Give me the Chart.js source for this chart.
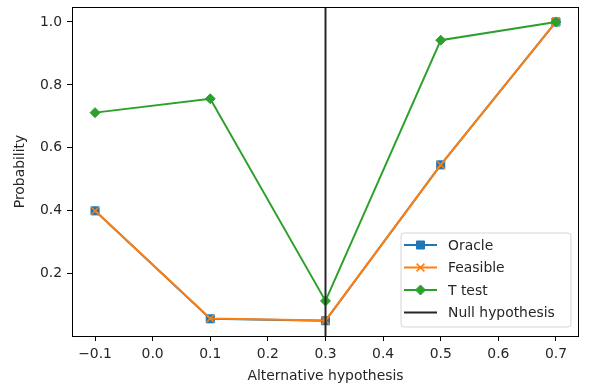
<!DOCTYPE html>
<html>
<head>
<meta charset="utf-8">
<script src="https://cdn.jsdelivr.net/npm/chart.js@4/dist/chart.umd.min.js"></script>
<style>
html,body{margin:0;padding:0;background:#fff;}
#wrap{width:592px;height:388px;position:relative;}
</style>
</head>
<body>
<div id="wrap"><canvas id="c" width="592" height="388"></canvas></div>
<script>
// ---- data ----
const xValues = [-0.1, 0.1, 0.3, 0.5, 0.7];
const oracle = [0.400, 0.057, 0.051, 0.546, 1.000];
const feasible = [0.400, 0.058, 0.052, 0.546, 1.000];
const tTest = [0.712, 0.756, 0.114, 0.942, 1.000];
const nullHypothesis = 0.3;
const seriesLabels = ['Oracle', 'Feasible', 'T test', 'Null hypothesis'];
const xTicks = [-0.1, 0.0, 0.1, 0.2, 0.3, 0.4, 0.5, 0.6, 0.7];
const yTicks = [0.2, 0.4, 0.6, 0.8, 1.0];
const xLimits = [-0.14, 0.74];
const yLimits = [0.0025, 1.0475];

const FONT = 'DejaVu Sans';
const FS = 13.9;

function pts(xs, ys) { return xs.map((x, i) => ({x: x, y: ys[i]})); }

const frameAndLegend = {
  id: 'frameAndLegend',
  afterDraw(chart) {
    const ctx = chart.ctx;
    const a = chart.chartArea;
    ctx.save();
    ctx.strokeStyle = '#000';
    ctx.lineWidth = 1;
    ctx.strokeRect(Math.round(a.left) + 0.5, Math.round(a.top) + 0.5,
      Math.round(a.right - a.left) - 1, Math.round(a.bottom - a.top));
    // legend
    const bx = 401, by = 233, bw = 170, bh = 94, r = 3;
    ctx.beginPath();
    ctx.moveTo(bx + r, by);
    ctx.arcTo(bx + bw, by, bx + bw, by + bh, r);
    ctx.arcTo(bx + bw, by + bh, bx, by + bh, r);
    ctx.arcTo(bx, by + bh, bx, by, r);
    ctx.arcTo(bx, by, bx + bw, by, r);
    ctx.closePath();
    ctx.fillStyle = 'rgba(255,255,255,0.8)';
    ctx.fill();
    ctx.strokeStyle = 'rgba(204,204,204,0.8)';
    ctx.lineWidth = 1;
    ctx.stroke();
    const ds = chart.data.datasets;
    ds.forEach((d, i) => {
      const y = 245 + i * 22.5;
      ctx.strokeStyle = d.borderColor;
      ctx.lineWidth = d.borderWidth;
      ctx.beginPath();
      ctx.moveTo(404, y);
      ctx.lineTo(437, y);
      ctx.stroke();
      if (d.pointStyle && d.pointRadius > 0) {
        ctx.fillStyle = d.pointBackgroundColor;
        ctx.strokeStyle = d.pointBorderColor;
        ctx.lineWidth = d.pointBorderWidth;
        Chart.helpers.drawPoint(ctx, {
          pointStyle: d.pointStyle, radius: d.pointRadius, rotation: 0,
          borderWidth: d.pointBorderWidth
        }, 420.5, y);
      }
      ctx.fillStyle = '#262626';
      ctx.font = FS + 'px "' + FONT + '"';
      ctx.textBaseline = 'middle';
      ctx.textAlign = 'left';
      ctx.fillText(d.label, 448, y + 1);
    });
    ctx.restore();
  }
};

new Chart(document.getElementById('c'), {
  type: 'line',
  data: {
    datasets: [
      {
        label: seriesLabels[0], data: pts(xValues, oracle),
        borderColor: '#1f77b4', backgroundColor: '#1f77b4', borderWidth: 2,
        pointStyle: 'rect', pointRadius: 5.7, pointBorderWidth: 1,
        pointBackgroundColor: '#1f77b4', pointBorderColor: '#1f77b4', order: 4
      },
      {
        label: seriesLabels[1], data: pts(xValues, feasible),
        borderColor: '#ff7f0e', backgroundColor: '#ff7f0e', borderWidth: 2,
        pointStyle: 'crossRot', pointRadius: 5.5, pointBorderWidth: 1.5,
        pointBackgroundColor: '#ff7f0e', pointBorderColor: '#ff7f0e', order: 3
      },
      {
        label: seriesLabels[2], data: pts(xValues, tTest),
        borderColor: '#2ca02c', backgroundColor: '#2ca02c', borderWidth: 2,
        pointStyle: 'rectRot', pointRadius: 5, pointBorderWidth: 1,
        pointBackgroundColor: '#2ca02c', pointBorderColor: '#2ca02c', order: 2
      },
      {
        label: seriesLabels[3],
        data: [{x: nullHypothesis, y: yLimits[0]}, {x: nullHypothesis, y: yLimits[1]}],
        borderColor: '#262626', backgroundColor: '#262626', borderWidth: 2,
        pointRadius: 0, pointStyle: false, order: 1
      }
    ]
  },
  options: {
    responsive: false,
    animation: false,
    events: [],
    layout: {padding: {top: 3, right: 13, left: 0, bottom: 0}},
    plugins: {legend: {display: false}, tooltip: {enabled: false}},
    elements: {line: {tension: 0}},
    scales: {
      x: {
        type: 'linear', min: xLimits[0], max: xLimits[1],
        afterBuildTicks: s => { s.ticks = xTicks.map(v => ({value: v})); },
        afterFit: s => { s.height = 52; s.paddingLeft = 0; s.paddingRight = 0; },
        grid: {display: true, drawOnChartArea: false, drawTicks: true, tickLength: 5, tickColor: '#000', color: '#000'},
        border: {display: false},
        ticks: {
          color: '#262626', font: {family: FONT, size: FS}, padding: 5,
          maxRotation: 0, autoSkip: false,
          callback: v => (v < 0 ? '\u2212' : '') + Math.abs(v).toFixed(1)
        },
        title: {display: true, text: 'Alternative hypothesis', color: '#262626',
          font: {family: FONT, size: FS}, padding: {top: 0, bottom: 3}}
      },
      y: {
        type: 'linear', min: yLimits[0], max: yLimits[1],
        afterBuildTicks: s => { s.ticks = yTicks.map(v => ({value: v})); },
        afterFit: s => { s.width = 72; s.paddingTop = 0; s.paddingBottom = 0; },
        grid: {display: true, drawOnChartArea: false, drawTicks: true, tickLength: 5, tickColor: '#000', color: '#000'},
        border: {display: false},
        ticks: {
          color: '#262626', font: {family: FONT, size: FS}, padding: 5,
          callback: v => v.toFixed(1)
        },
        title: {display: true, text: 'Probability', color: '#262626',
          font: {family: FONT, size: FS}, padding: {top: 12, bottom: 0}}
      }
    }
  },
  plugins: [frameAndLegend]
});
</script>
</body>
</html>
